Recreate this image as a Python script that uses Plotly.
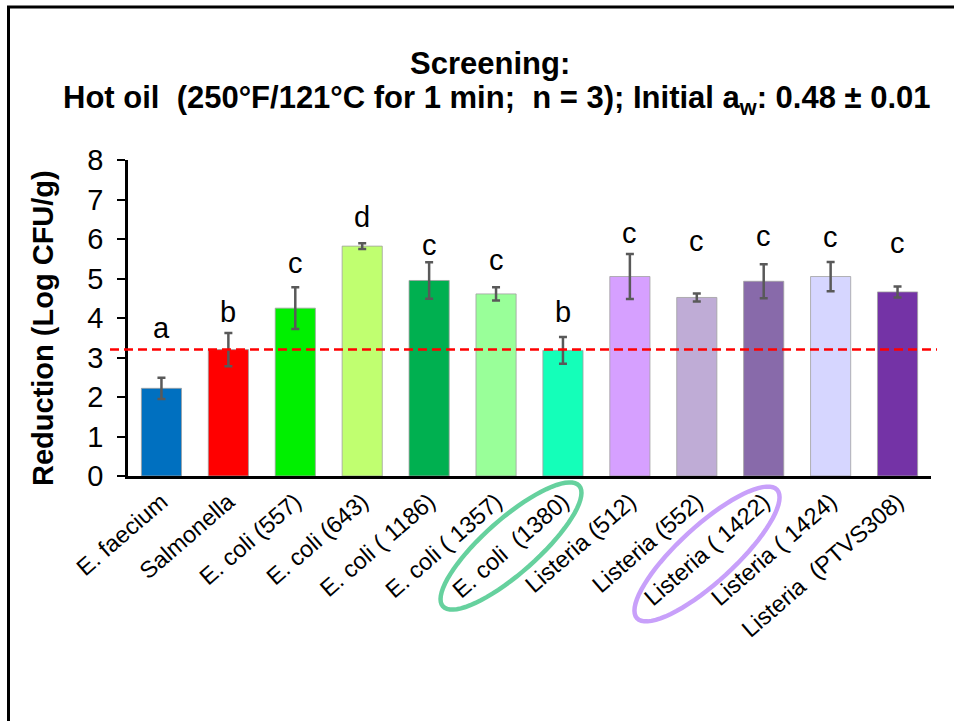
import numpy as np
import plotly.graph_objects as go

categories = ["E. faecium", "Salmonella", "E. coli (557)", "E. coli (643)", "E. coli ( 1186)",
              "E. coli ( 1357)", "E. coli  (1380)", "Listeria (512)", "Listeria (552)",
              "Listeria ( 1422)", "Listeria ( 1424)", "Listeria  (PTVS308)"]
reduction = [2.22, 3.20, 4.25, 5.82, 4.95, 4.61, 3.18, 5.05, 4.52, 4.93, 5.05, 4.66]
error = [0.27, 0.42, 0.53, 0.07, 0.46, 0.17, 0.34, 0.57, 0.10, 0.43, 0.37, 0.14]
letters = ["a", "b", "c", "d", "c", "c", "b", "c", "c", "c", "c", "c"]
letter_y = [3.75, 4.16, 5.39, 6.56, 5.86, 5.47, 4.16, 6.16, 5.96, 6.08, 6.04, 5.91]
threshold = 3.2
colors = ["#0070C0", "#FF0000", "#00F000", "#C0FF70", "#00B050", "#99FF99",
          "#14FFB9", "#D6A0FF", "#BFACD6", "#886AAA", "#D6D6FF", "#7433A6"]

W, H = 954, 721
L, R, T, B = 128, 23, 160, 245
pw, ph = W - L - R, H - T - B
FONT = "Liberation Sans, Arial"

def px2paper(x, y):
    return (x - L) / pw, (H - B - y) / ph

fig = go.Figure()
fig.add_trace(go.Bar(
    x=categories, y=reduction,
    marker=dict(color=colors, line=dict(color="rgba(160,160,160,0.8)", width=1)),
    error_y=dict(type="data", array=error, visible=True, color="#595959", thickness=2.5, width=4),
    showlegend=False,
))

annotations = []
for c, t, ly in zip(categories, letters, letter_y):
    annotations.append(dict(x=c, y=ly, xref="x", yref="y", text=t, showarrow=False,
                            font=dict(size=29, color="black", family=FONT),
                            yanchor="middle"))

tx, ty = px2paper(490, 64)
annotations.append(dict(x=tx, y=ty, xref="paper", yref="paper", text="<b>Screening:</b>",
                        showarrow=False, font=dict(size=31, color="black", family=FONT),
                        xanchor="center", yanchor="middle"))
tx, ty = px2paper(497, 100)
annotations.append(dict(x=tx, y=ty, xref="paper", yref="paper",
                        text="<b>Hot oil  (250°F/121°C for 1 min;  n = 3); Initial a<sub>w</sub>: 0.48 ± 0.01</b>",
                        showarrow=False, font=dict(size=31, color="black", family=FONT),
                        xanchor="center", yanchor="middle"))
tx, ty = px2paper(43, 328)
annotations.append(dict(x=tx, y=ty, xref="paper", yref="paper", text="<b>Reduction (Log CFU/g)</b>",
                        textangle=-90, showarrow=False,
                        font=dict(size=29, color="black", family=FONT),
                        xanchor="center", yanchor="middle"))

shapes = []
x0, _ = px2paper(110, 0)
x1, _ = px2paper(937, 0)
shapes.append(dict(type="line", xref="paper", yref="y", x0=x0, x1=x1, y0=threshold, y1=threshold,
                   line=dict(color="#FF0000", width=2.5, dash="9px,5px")))

def ellipse_path(cx, cy, a, b, deg):
    th = np.deg2rad(deg)
    pts = []
    for t in np.linspace(0, 2 * np.pi, 73):
        x = cx + a * np.cos(t) * np.cos(th) - b * np.sin(t) * np.sin(th)
        y = cy - (a * np.cos(t) * np.sin(th) + b * np.sin(t) * np.cos(th))
        pts.append(px2paper(x, y))
    return "M " + " L ".join(f"{p[0]:.5f},{p[1]:.5f}" for p in pts) + " Z"

shapes.append(dict(type="path", xref="paper", yref="paper", path=ellipse_path(511, 546, 91, 27, 41.5),
                   line=dict(color="#66D19E", width=4.5)))
shapes.append(dict(type="path", xref="paper", yref="paper", path=ellipse_path(707, 554, 95, 28, 42.5),
                   line=dict(color="#C8A0FA", width=4.5)))
bx0, by1 = px2paper(8.5, 7)
shapes.append(dict(type="rect", xref="paper", yref="paper", x0=bx0, y0=-3, x1=3, y1=by1,
                   line=dict(color="black", width=3), fillcolor="rgba(0,0,0,0)"))

fig.update_layout(
    width=W, height=H,
    margin=dict(l=L, r=R, t=T, b=B, autoexpand=False),
    paper_bgcolor="white", plot_bgcolor="white",
    bargap=0.4,
    font=dict(family=FONT, color="black"),
    annotations=annotations,
    shapes=shapes,
)
fig.update_xaxes(showline=True, linecolor="black", linewidth=2.5, ticks="", tickangle=-41,
                 tickfont=dict(size=23.5, color="black"), showgrid=False)
fig.update_yaxes(range=[0, 8], dtick=1, showline=True, linecolor="black", linewidth=2.5,
                 ticks="outside", ticklen=8, tickwidth=2, tickcolor="black",
                 tickfont=dict(size=29, color="black"), showgrid=False, zeroline=False,
                 ticklabelstandoff=8)

fig.write_html("out.html", config={"displayModeBar": False},
               post_script="document.body.style.margin='0';document.body.style.overflow='hidden';")
